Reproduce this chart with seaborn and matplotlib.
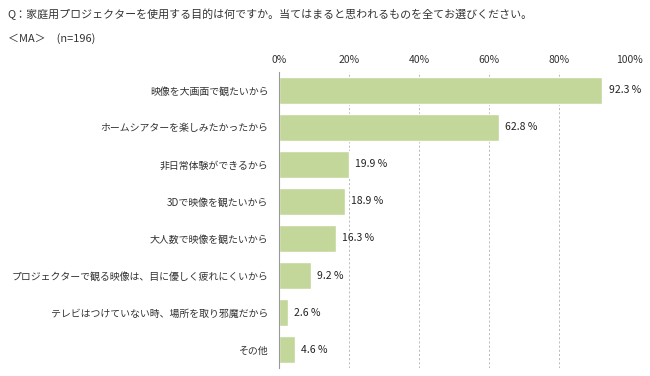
import numpy as np
import pandas as pd
import seaborn as sns
import matplotlib.pyplot as plt

# 回答データ
reasons = [
    '映像を大画面で観たいから',
    'ホームシアターを楽しみたかったから',
    '非日常体験ができるから',
    '3Dで映像を観たいから',
    '大人数で映像を観たいから',
    'プロジェクターで観る映像は、目に優しく疲れにくいから',
    'テレビはつけていない時、場所を取り邪魔だから',
    'その他',
]
shares = [92.3, 62.8, 19.9, 18.9, 16.3, 9.2, 2.6, 4.6]
x_ticks = [0, 20, 40, 60, 80, 100]

sns.set_style("white")
plt.rcParams['font.family'] = ['Noto Sans CJK JP', 'DejaVu Sans']

df = pd.DataFrame({'reason': reasons, 'share': shares})

fig = plt.figure(figsize=(6.5, 3.76), dpi=100)
ax = fig.add_axes([0.429, 0.021, 0.539, 0.788])

sns.barplot(x='share', y='reason', data=df, color='#c4d79b', width=0.73,
            saturation=1, ax=ax)

ax.set_xlim(0, 100)
ax.set_ylim(len(reasons) - 0.5, -0.5)
ax.set_xticks(x_ticks)
ax.set_xticklabels([f'{t}%' for t in x_ticks], fontsize=7.5, color='#333333')
ax.xaxis.tick_top()
ax.tick_params(axis='x', length=0, pad=5)
ax.tick_params(axis='y', length=0, labelsize=7.15, labelcolor='#333333', pad=7.5)
ax.set_yticks(np.arange(-0.5, len(reasons)), minor=True)
ax.tick_params(axis='y', which='minor', length=3, direction='in', color='#999999')
ax.set_xlabel('')
ax.set_ylabel('')

for t in x_ticks[1:]:
    ax.axvline(t, color='#b0b0b0', linestyle=(0, (2.5, 2.5)), linewidth=0.6, zorder=0)

for s in ['top', 'right', 'bottom']:
    ax.spines[s].set_visible(False)
ax.spines['left'].set_color('#999999')
ax.spines['left'].set_linewidth(0.8)

for i, v in enumerate(shares):
    ax.text(v + 1.8, i, f'{v} %', va='center', ha='left', fontsize=7.5, color='#222222')

fig.text(0.012, 0.962, 'Q：家庭用プロジェクターを使用する目的は何ですか。当てはまると思われるものを全てお選びください。',
         fontsize=7.9, color='#333333', va='center')
fig.text(0.012, 0.898, '＜MA＞　(n=196)', fontsize=7.9, color='#333333', va='center')

plt.savefig('out.png', dpi=100)
plt.close()
